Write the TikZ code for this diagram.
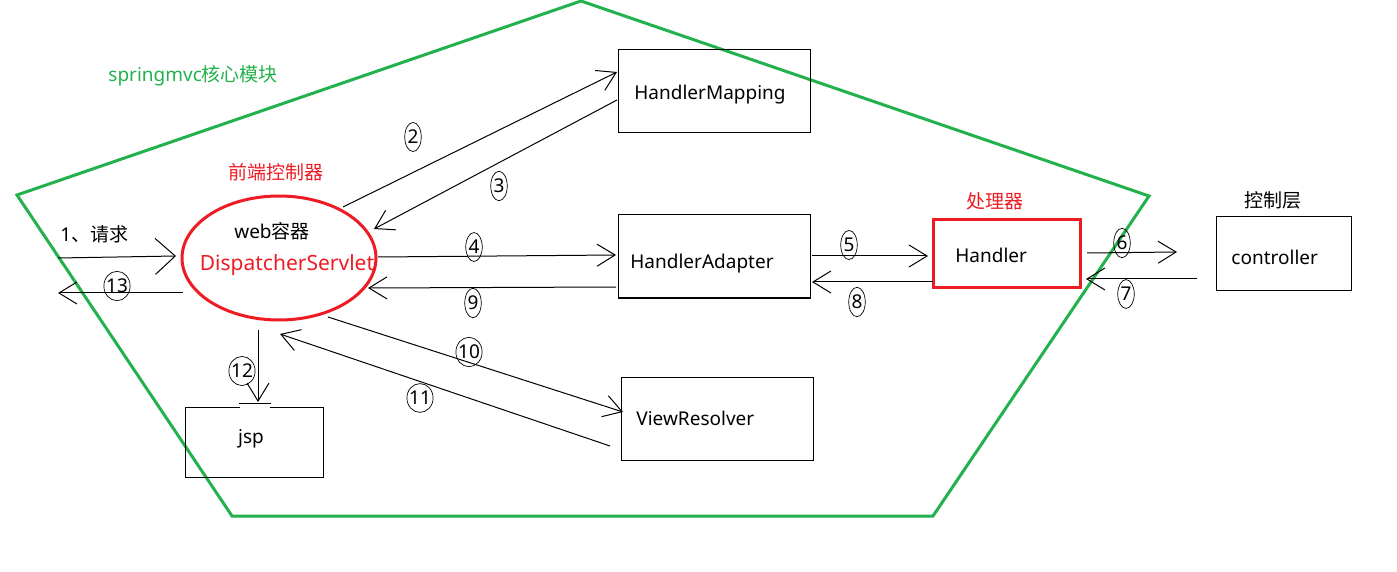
\documentclass[tikz,border=0pt]{standalone}
\usepackage{fontspec}
\setmainfont{Noto Sans}
\newfontfamily\cjk{Noto Sans CJK SC}
\usetikzlibrary{arrows.meta,shapes.geometric}
\definecolor{pgreen}{RGB}{34,177,76}
\definecolor{pred}{RGB}{237,28,36}
\begin{document}
\begin{tikzpicture}[x=0.5pt,y=-0.5pt,
  every node/.style={font=\fontsize{9.5}{11}\selectfont, inner sep=0pt},
  box/.style={draw, line width=0.5pt, minimum width=96pt, minimum height=41.5pt},
  conn/.style={line width=0.5pt, -{Straight Barb[length=9pt,width=11pt]}},
  num/.style={ellipse, draw, line width=0.35pt, inner xsep=0.2pt, inner ysep=1.7pt, font=\fontsize{9.5}{10}\selectfont},
  numtwo/.style={num, inner xsep=-0.8pt}]
\useasboundingbox (0,0) rectangle (1397,572);
% green pentagon
\draw[pgreen, line width=1.5pt] (581,1) -- (1149,196) -- (933,516) -- (232,516) -- (17,195) -- cycle;
\node[pgreen, anchor=west] (title) at (108,76) {springmvc{\cjk 核心模块}};
% boxes
\node[box] (hm) at (714,91.5) {};
\node[box] (ha) at (714,256.5) {};
\node[box] (vr) at (717,418.5) {};
\node[draw, line width=0.5pt, minimum width=69pt, minimum height=35pt] (jsp) at (254,442) {};
\node[draw=pred, line width=1.5pt, minimum width=73.5pt, minimum height=34pt] (hd) at (1006.5,254) {};
\node[draw, line width=0.5pt, minimum width=67.5pt, minimum height=37pt] (ct) at (1283.5,254) {};
\node[draw=pred, line width=1.5pt, ellipse, minimum width=97pt, minimum height=62pt] (ds) at (279,258) {};
% box texts
\node[anchor=west] (thm) at (634,95) {HandlerMapping};
\node[anchor=west] (tha) at (630,264) {HandlerAdapter};
\node[anchor=west] (tvr) at (636,418) {ViewResolver};
\node (tjsp) at (251,439) {jsp};
\node[anchor=west] (thd) at (955,255) {Handler};
\node[anchor=west] (tct) at (1231,257) {controller};
\node (tweb) at (272,231) {web{\cjk 容器}};
\node[pred, font=\fontsize{10.5}{12}\selectfont] (tds) at (287,265) {DispatcherServlet};
% captions
\node[pred, font=\cjk\fontsize{9.5}{11}\selectfont] (cfront) at (276,172) {前端控制器};
\node[pred, font=\cjk\fontsize{9.5}{11}\selectfont] (chd) at (995,201) {处理器};
\node[font=\cjk\fontsize{9.5}{11}\selectfont] (cct) at (1273,200) {控制层};
\node[anchor=west] (creq) at (60,234) {1{\cjk 、请求}};
% jsp top tick
\draw[white, line width=1.2pt] (240,407) -- (270,407);
\coordinate (tk1) at (239,403);
\coordinate (tk2) at (271,403);
\draw[line width=0.5pt] (tk1) -- (tk2);
% connector end points
\coordinate (a1s) at (58,258);   \coordinate (a1e) at (176,256);
\coordinate (a13s) at (183,293); \coordinate (a13e) at (58,293);
\coordinate (a2s) at (343,207);  \coordinate (a2e) at (617,72);
\coordinate (a3s) at (617,100);  \coordinate (a3e) at (374,229);
\coordinate (a4s) at (378,257);  \coordinate (a4e) at (616,255);
\coordinate (a9s) at (616,287);  \coordinate (a9e) at (368,288);
\coordinate (a5s) at (812,256);  \coordinate (a5e) at (928,256);
\coordinate (a8s) at (933,282);  \coordinate (a8e) at (812,282);
\coordinate (a6s) at (1087,253); \coordinate (a6e) at (1177,252);
\coordinate (a7s) at (1197,279); \coordinate (a7e) at (1086,279);
\coordinate (a10s) at (328,317); \coordinate (a10e) at (623,412);
\coordinate (a11s) at (610,446); \coordinate (a11e) at (280,334);
\coordinate (a12s) at (258,330); \coordinate (a12e) at (258,402);
% connectors
\draw[conn, -{Straight Barb[length=10pt,width=18pt]}] (a1s) -- (a1e);
\draw[conn] (a13s) -- (a13e);
\draw[conn] (a2s) -- (a2e);
\draw[conn] (a3s) -- (a3e);
\draw[conn] (a4s) -- (a4e);
\draw[conn] (a9s) -- (a9e);
\draw[conn] (a5s) -- (a5e);
\draw[conn] (a8s) -- (a8e);
\draw[conn] (a6s) -- (a6e);
\draw[conn] (a7s) -- (a7e);
\draw[conn] (a10s) -- (a10e);
\draw[conn] (a11s) -- (a11e);
\draw[conn] (a12s) -- (a12e);
% numbers
\node[num] (n2) at (413,137) {2};
\node[num] (n3) at (499,186) {3};
\node[num] (n4) at (474,247) {4};
\node[num] (n9) at (473,303) {9};
\node[num] (n5) at (849,245) {5};
\node[num] (n8) at (857,302) {8};
\node[num] (n6) at (1122,243) {6};
\node[num] (n7) at (1126,294) {7};
\node[numtwo] (n10) at (469,352) {10};
\node[numtwo] (n11) at (420,398) {11};
\node[numtwo] (n12) at (242,371) {12};
\node[numtwo] (n13) at (117,286) {13};
\end{tikzpicture}
\end{document}
